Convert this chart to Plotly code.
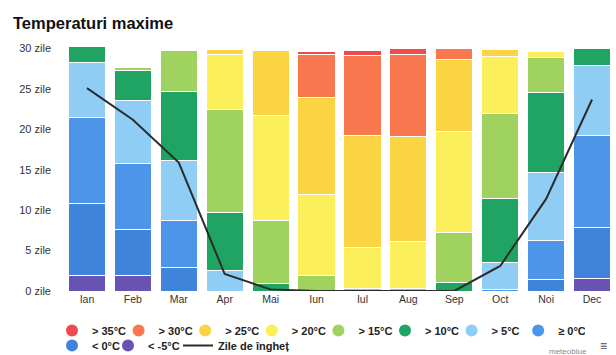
import plotly.graph_objects as go

# Monthly distribution of days by maximum temperature class
months = ["Ian", "Feb", "Mar", "Apr", "Mai", "Iun", "Iul", "Aug", "Sep", "Oct", "Noi", "Dec"]

days_lt_m5 = [1.9, 1.9, 0, 0, 0, 0, 0, 0, 0, 0, 0, 1.6]
days_lt_0 = [8.9, 5.7, 2.9, 0, 0, 0, 0, 0, 0, 0, 1.4, 6.2]
days_ge_0 = [10.7, 8.2, 5.8, 0, 0, 0, 0, 0, 0, 0.2, 4.9, 11.5]
days_gt_5 = [6.8, 7.8, 7.4, 2.5, 0, 0, 0, 0, 0, 3.3, 8.4, 8.6]
days_gt_10 = [1.9, 3.7, 8.6, 7.2, 0.9, 0, 0, 0, 1.0, 8.0, 9.9, 2.1]
days_gt_15 = [0, 0.4, 5.0, 12.8, 7.8, 1.9, 0.3, 0.3, 6.2, 10.5, 4.3, 0]
days_gt_20 = [0, 0, 0, 6.8, 13.0, 10.1, 5.1, 5.8, 12.5, 7.0, 0.7, 0]
days_gt_25 = [0, 0, 0, 0.6, 8.0, 11.9, 13.8, 13.0, 8.9, 0.9, 0, 0]
days_gt_30 = [0, 0, 0, 0, 0, 5.4, 9.9, 10.2, 1.4, 0, 0, 0]
days_gt_35 = [0, 0, 0, 0, 0, 0.3, 0.6, 0.7, 0, 0, 0, 0]

frost_days = [25.1, 21.2, 15.9, 2.1, 0.2, 0, 0, 0, 0, 3.1, 11.4, 23.7]

y_ticks = [0, 5, 10, 15, 20, 25, 30]
y_tick_text = ["0 zile", "5 zile", "10 zile", "15 zile", "20 zile", "25 zile", "30 zile"]

# (label, values, colour, legend, rank) in stacking order, bottom to top
classes = [
    ("< -5°C", days_lt_m5, "#6852b2", "legend4", 1),
    ("< 0°C", days_lt_0, "#3f83da", "legend2", 1),
    ("≥ 0°C", days_ge_0, "#4d95e8", "legend", 8),
    ("> 5°C", days_gt_5, "#8fcdf5", "legend", 7),
    ("> 10°C", days_gt_10, "#1fa463", "legend", 6),
    ("> 15°C", days_gt_15, "#9fd25f", "legend", 5),
    ("> 20°C", days_gt_20, "#fcef5c", "legend", 4),
    ("> 25°C", days_gt_25, "#fad443", "legend", 3),
    ("> 30°C", days_gt_30, "#f9774f", "legend", 2),
    ("> 35°C", days_gt_35, "#ee4a4f", "legend", 1),
]

fig = go.Figure()

for name, vals, color, leg, rank in classes:
    fig.add_trace(go.Bar(
        x=months, y=vals, name=name, showlegend=False,
        marker=dict(color=color, line=dict(color="white", width=1)),
        hoverinfo="skip",
    ))

# round legend markers for the temperature classes
for name, vals, color, leg, rank in classes:
    fig.add_trace(go.Scatter(
        x=[None], y=[None], mode="markers", name=name,
        marker=dict(symbol="circle", size=12, color=color),
        legend=leg, legendrank=rank, showlegend=True,
    ))

fig.add_trace(go.Scatter(
    x=months, y=frost_days, mode="lines", name="Zile de îngheț",
    line=dict(color="#2b2b2b", width=2),
    legend="legend3",
))

legend_common = dict(
    orientation="h", xref="container", yref="container",
    xanchor="left", yanchor="top", traceorder="normal",
    font=dict(size=11, color="#222", weight="bold"),
    bgcolor="rgba(0,0,0,0)", itemclick=False,
)

fig.update_layout(
    width=616, height=355,
    margin=dict(l=64, r=1, t=40, b=64),
    paper_bgcolor="white", plot_bgcolor="white",
    barmode="stack", bargap=0.19,
    font=dict(family="Liberation Sans, Arial, sans-serif", color="#333"),
    title=dict(
        text="<b>Temperaturi maxime</b>",
        x=13 / 616, xref="container", xanchor="left",
        y=1 - 23 / 355, yref="container", yanchor="middle",
        font=dict(size=16.5, color="#111"),
    ),
    xaxis=dict(
        showgrid=False, showline=False, zeroline=False, ticks="",
        tickfont=dict(size=10.5, color="#333"),
    ),
    yaxis=dict(
        range=[0, 31.06], showgrid=False, showline=False, zeroline=False,
        tickvals=y_ticks, ticktext=y_tick_text, ticks="",
        ticklabelstandoff=12,
        tickfont=dict(size=11, color="#333"),
    ),
    legend=dict(legend_common, x=52 / 616, y=1 - 316 / 355,
                entrywidth=21.6, entrywidthmode="pixels"),
    legend2=dict(legend_common, x=52 / 616, y=1 - 331 / 355),
    legend4=dict(legend_common, x=108 / 616, y=1 - 331 / 355),
    legend3=dict(legend_common, x=178 / 616, y=1 - 331 / 355),
)

fig.add_annotation(
    text="meteoblue", xref="paper", yref="paper", x=1, y=0,
    xanchor="right", yanchor="top", xshift=-26, yshift=-54,
    showarrow=False, font=dict(size=8, color="#888"),
)
fig.add_annotation(
    text="≡", xref="paper", yref="paper", x=1, y=0,
    xanchor="right", yanchor="top", xshift=-6, yshift=-46,
    showarrow=False, font=dict(size=12, color="#444"),
)

fig.write_html("out.html")
